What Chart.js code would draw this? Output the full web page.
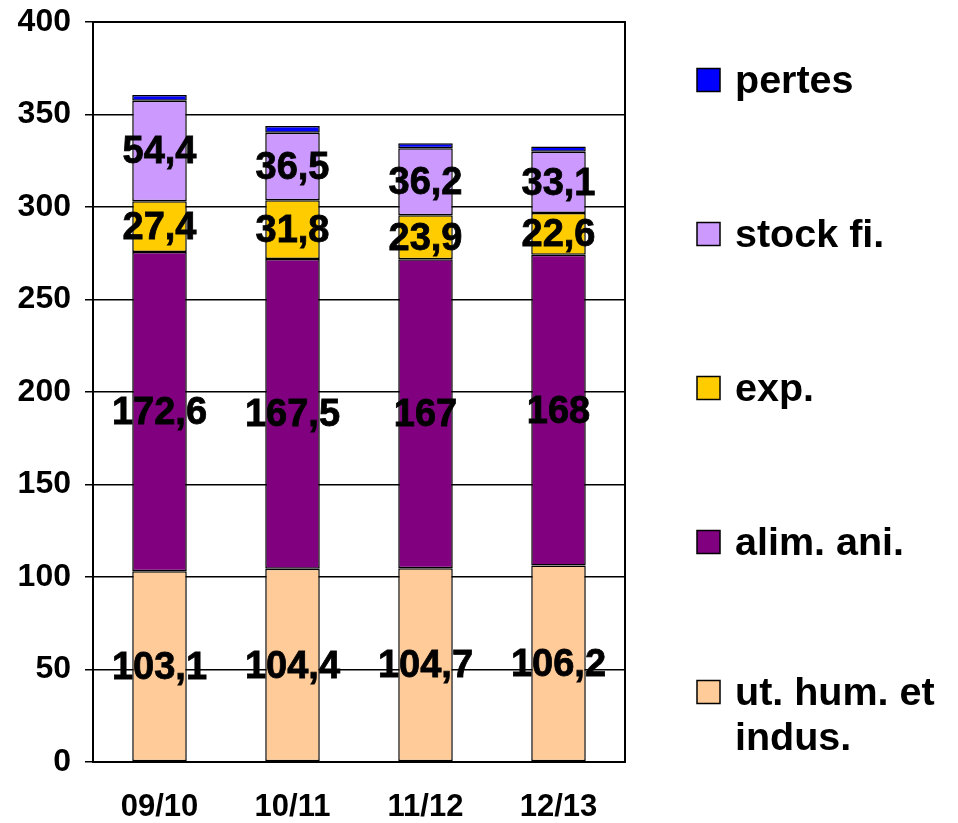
<!DOCTYPE html>
<html>
<head>
<meta charset="utf-8">
<script src="https://cdn.jsdelivr.net/npm/chart.js@4"></script>
<style>
  html, body { margin: 0; padding: 0; background: #fff; }
  #wrap { width: 958px; height: 823px; }
</style>
</head>
<body>
<div id="wrap"><canvas id="c" width="958" height="823"></canvas></div>
<script>
// Campaigns
const campaigns = ['09/10', '10/11', '11/12', '12/13'];

// Uses, stacked from the bottom up
const utHumIndus = [103.1, 104.4, 104.7, 106.2];
const alimAni    = [172.6, 167.5, 167, 168];
const exportsV   = [27.4, 31.8, 23.9, 22.6];
const stockFi    = [54.4, 36.5, 36.2, 33.1];
const pertes     = [3.0, 3.6, 2.6, 2.8];

const seriesNames = [['ut. hum. et', 'indus.'], ['alim. ani.'], ['exp.'], ['stock fi.'], ['pertes']];
const seriesColors = ['#FFCC99', '#800080', '#FFCC00', '#CC99FF', '#0000FF'];
const labelledSeries = [0, 1, 2, 3];

const yTicks = { min: 0, max: 400, step: 50 };

const FONT = '"Liberation Sans", Arial, sans-serif';

function fmt(v) { return String(v).replace('.', ','); }

const seriesValues = [utHumIndus, alimAni, exportsV, stockFi, pertes];

const datasets = seriesValues.map((vals, i) => ({
  label: seriesNames[i].join(' '),
  data: vals,
  backgroundColor: seriesColors[i],
  borderColor: '#000',
  borderWidth: 1.5,
  borderSkipped: false,
  barPercentage: 0.41,
  categoryPercentage: 1.0,
  stack: 's'
}));

// Value labels centred inside each segment
const segmentLabels = {
  id: 'segmentLabels',
  afterDatasetsDraw(chart) {
    const ctx = chart.ctx;
    ctx.save();
    ctx.font = 'bold 38px ' + FONT;
    ctx.fillStyle = '#000';
    ctx.strokeStyle = '#000';
    ctx.lineWidth = 0.8;
    ctx.textAlign = 'center';
    ctx.textBaseline = 'middle';
    labelledSeries.forEach(di => {
      const meta = chart.getDatasetMeta(di);
      meta.data.forEach((el, i) => {
        const y = (el.y + el.base) / 2;
        const t = fmt(chart.data.datasets[di].data[i]);
        ctx.fillText(t, el.x, y + 2);
        ctx.strokeText(t, el.x, y + 2);
      });
    });
    ctx.restore();
  }
};

// Frame around the plot area
const plotFrame = {
  id: 'plotFrame',
  afterDatasetsDraw(chart) {
    const a = chart.chartArea;
    const ctx = chart.ctx;
    ctx.save();
    ctx.strokeStyle = '#000';
    ctx.lineWidth = 2;
    ctx.strokeRect(a.left, a.top, a.right - a.left, a.bottom - a.top);
    ctx.restore();
  }
};

// Legend on the right, top entry = top of the stack
const sideLegend = {
  id: 'sideLegend',
  afterDraw(chart) {
    const ctx = chart.ctx;
    const x0 = 697, box = 23, textX = 735;
    const rows = [80, 234, 388, 542, 692];
    ctx.save();
    ctx.font = 'bold 39.5px ' + FONT;
    ctx.textAlign = 'left';
    ctx.textBaseline = 'middle';
    for (let k = 0; k < rows.length; k++) {
      const di = seriesValues.length - 1 - k;
      const y = rows[k];
      ctx.fillStyle = seriesColors[di];
      ctx.fillRect(x0, y - box / 2, box, box);
      ctx.strokeStyle = '#000';
      ctx.lineWidth = 1.5;
      ctx.strokeRect(x0, y - box / 2, box, box);
      ctx.fillStyle = '#000';
      seriesNames[di].forEach((line, li) => {
        ctx.fillText(line, textX, y + 2 + li * 45);
      });
    }
    ctx.restore();
  }
};

new Chart(document.getElementById('c'), {
  type: 'bar',
  data: { labels: campaigns, datasets },
  plugins: [segmentLabels, plotFrame, sideLegend],
  options: {
    responsive: false,
    animation: false,
    layout: { padding: { top: 20, right: 333, bottom: 0, left: 0 } },
    plugins: { legend: { display: false }, tooltip: { enabled: false } },
    scales: {
      x: {
        stacked: true,
        grid: { display: false, drawTicks: false },
        border: { display: false },
        ticks: { color: '#000', font: { family: FONT, size: 31, weight: 'bold' }, padding: 27 },
        afterFit(s) { s.height = 61; }
      },
      y: {
        stacked: true,
        min: yTicks.min, max: yTicks.max,
        grid: { color: '#000', lineWidth: 1.5, tickLength: 8, drawTicks: true },
        border: { display: false },
        ticks: { stepSize: yTicks.step, color: '#000', font: { family: FONT, size: 32, weight: 'bold', lineHeight: 0.5 }, padding: 14 },
        afterFit(s) { s.width = 93; }
      }
    }
  }
});
</script>
</body>
</html>
